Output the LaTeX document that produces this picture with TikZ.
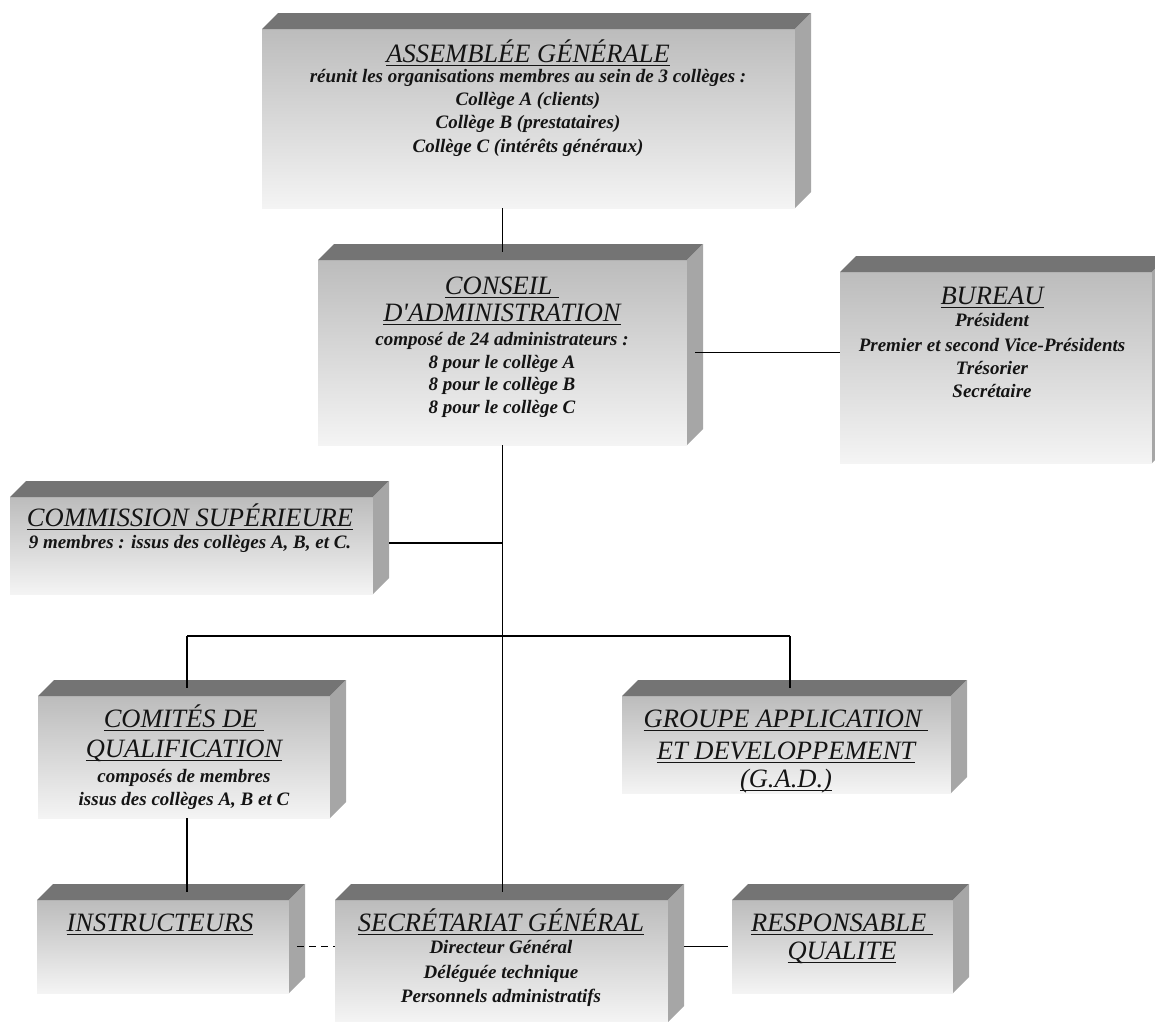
\documentclass[tikz,border=0pt]{standalone}
\usepackage{fontspec}
\setmainfont{Liberation Serif}
\usetikzlibrary{calc}
\definecolor{ftop}{RGB}{188,188,188}
\definecolor{fbot}{RGB}{244,244,244}
\definecolor{topface}{RGB}{116,116,116}
\definecolor{sideface}{RGB}{166,166,166}
\definecolor{txt}{RGB}{20,20,20}
\newcommand\undl[1]{\setbox0=\hbox{#1}\leavevmode\rlap{\copy0}\rule[-4.4pt]{\wd0}{1.6pt}}
\newcommand\sidefaces[1]{%
  \fill[topface] (#1.north west) -- ++(16pt,16pt) -- ($(#1.north east)+(16pt,16pt)$) -- (#1.north east) -- cycle;
  \fill[sideface] (#1.north east) -- ++(16pt,16pt) -- ($(#1.south east)+(16pt,16pt)$) -- (#1.south east) -- cycle;}
\tikzset{
  face/.style={rectangle, inner sep=0pt, outer sep=0pt, top color=ftop, bottom color=fbot, draw=none, anchor=north west},
  ttl/.style={font=\fontsize{26.5}{30}\selectfont\itshape, inner sep=0pt, outer sep=0pt, anchor=base, text=txt},
  sub/.style={font=\fontsize{19}{22}\selectfont\bfseries\itshape, inner sep=0pt, outer sep=0pt, anchor=base, text=txt},
  conn/.style={line width=1.2pt, black},
}
\begin{document}
\begin{tikzpicture}[x=1pt, y=-1pt]
\useasboundingbox (0,0) rectangle (1155,1021);
\clip (0,0) rectangle (1155,1021);
% boxes (front faces)
\node[face, minimum width=533pt, minimum height=179pt] (ag) at (262,29) {};
\node[face, minimum width=369pt, minimum height=185pt] (ca) at (318,260) {};
\node[face, minimum width=312pt, minimum height=191pt] (bureau) at (840,272) {};
\node[face, minimum width=363pt, minimum height=97pt] (comm) at (10,497) {};
\node[face, minimum width=292pt, minimum height=122pt] (comites) at (38,696) {};
\node[face, minimum width=329pt, minimum height=97pt] (gad) at (622,696) {};
\node[face, minimum width=252pt, minimum height=93pt] (instr) at (37,900) {};
\node[face, minimum width=333pt, minimum height=122pt] (sg) at (335,900) {};
\node[face, minimum width=221pt, minimum height=93pt] (resp) at (732,900) {};
\sidefaces{ag}\sidefaces{ca}\sidefaces{bureau}\sidefaces{comm}\sidefaces{comites}
\sidefaces{gad}\sidefaces{instr}\sidefaces{sg}\sidefaces{resp}
% connectors
\coordinate (jc) at (502,543);
\coordinate (bl) at (187,636);
\coordinate (br) at (790,636);
\draw[conn] (ag.south -| ca.north) -- ($(ca.north)+(0pt,8pt)$);
\draw[conn] ($(ca.east)+(8pt,0pt)$) -- (ca.east -| bureau.west);
\draw[conn] (ca.south) -- ($(sg.north -| ca.south)+(0pt,8pt)$);
\draw[conn] ($(comm.east |- jc)+(16pt,0pt)$) -- (jc);
\draw[conn] (bl) -- (br);
\draw[conn] (bl) -- ($(comites.north -| bl)+(0pt,8pt)$);
\draw[conn] (br) -- ($(gad.north -| br)+(0pt,8pt)$);
\draw[conn] (comites.south -| bl) -- ($(instr.north -| bl)+(0pt,8pt)$);
\draw[conn, dash pattern=on 7pt off 5pt] ($(instr.east)+(8pt,0pt)$) -- (instr.east -| sg.west);
\draw[conn] ($(resp.west -| sg.east)+(16pt,0pt)$) -- ($(resp.west)+(-4pt,0pt)$);
% texts
\node[ttl] (agT) at (528,62) {\undl{ASSEMBLÉE GÉNÉRALE}};
\node[sub] (ag1) at (528,82) {réunit les organisations membres au sein de 3 collèges :};
\node[sub] (ag2) at (528,105) {Collège A (clients)};
\node[sub] (ag3) at (528,128) {Collège B (prestataires)};
\node[sub] (ag4) at (528,152) {Collège C (intérêts généraux)};
\node[ttl] (caT1) at (502,294) {\undl{CONSEIL\ }};
\node[ttl] (caT2) at (502,321) {\undl{D\textquotesingle ADMINISTRATION}};
\node[sub] (ca1) at (502,345) {composé de 24 administrateurs :};
\node[sub] (ca2) at (502,368) {8 pour le collège A};
\node[sub] (ca3) at (502,390) {8 pour le collège B};
\node[sub] (ca4) at (502,413) {8 pour le collège C};
\node[ttl] (buT) at (992,304) {\undl{BUREAU}};
\node[sub] (bu1) at (992,326) {Président};
\node[sub] (bu2) at (992,351) {Premier et second Vice-Présidents};
\node[sub] (bu3) at (992,374) {Trésorier};
\node[sub] (bu4) at (992,397) {Secrétaire};
\node[ttl] (coT) at (190,526) {\undl{COMMISSION SUPÉRIEURE}};
\node[sub] (co1) at (190,548) {9 membres : issus des collèges A, B, et C.};
\node[ttl] (cqT1) at (184,727) {\undl{COMITÉS DE\ }};
\node[ttl] (cqT2) at (184,757) {\undl{QUALIFICATION}};
\node[sub] (cq1) at (184,782) {composés de membres};
\node[sub] (cq2) at (184,805) {issus des collèges A, B et C};
\node[ttl] (gaT1) at (786,727) {\undl{GROUPE APPLICATION\ }};
\node[ttl] (gaT2) at (786,759) {\undl{ET DEVELOPPEMENT}};
\node[ttl] (gaT3) at (786,787) {\undl{(G.A.D.)}};
\node[ttl] (inT) at (160,931) {\undl{INSTRUCTEURS}};
\node[ttl] (sgT) at (501,931) {\undl{SECRÉTARIAT GÉNÉRAL}};
\node[sub] (sg1) at (501,953) {Directeur Général};
\node[sub] (sg2) at (501,978) {Déléguée technique};
\node[sub] (sg3) at (501,1002) {Personnels administratifs};
\node[ttl] (reT1) at (842,931) {\undl{RESPONSABLE\ }};
\node[ttl] (reT2) at (842,959) {\undl{QUALITE}};
\end{tikzpicture}
\end{document}
